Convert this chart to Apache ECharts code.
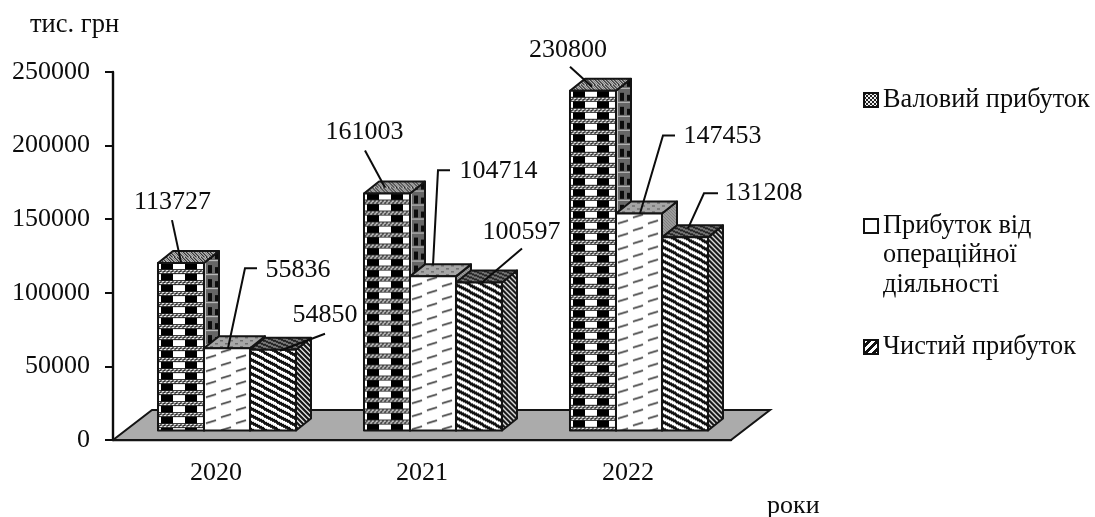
<!DOCTYPE html>
<html>
<head>
<meta charset="utf-8">
<script src="https://cdn.jsdelivr.net/npm/echarts@6/dist/echarts.min.js"></script>
<style>html,body{margin:0;padding:0;background:#fff}#c{width:1095px;height:517px}</style>
</head>
<body>
<div id="c"></div>
<script>
// ---- data ----
var categories = ['2020', '2021', '2022'];
var seriesNames = ['Валовий прибуток', 'Прибуток від\nопераційної\nдіяльності', 'Чистий прибуток'];
var grossProfit = [113727, 161003, 230800];
var operatingProfit = [55836, 104714, 147453];
var netProfit = [54850, 100597, 131208];
var yTicks = [0, 250000, 50000];

// ---- layout (offsets from each bar's top-left front corner) ----
var labelOffsets = [
  [[14.5, -61], [0.5, -61], [-2, -41]],
  [[94, -78], [88.5, -105], [106.5, -77]],
  [[75, -35], [65.5, -50], [101.5, -44]]
];
var leaderOffsets = [
  [[[14, -43], [23, -1]], [[1, -43], [21, -6]], [[0, -24], [22, -4]]],
  [[[53, -80], [41, -80], [24, 0]], [[40, -106], [28, -106], [23, -11]], [[59, -78], [47, -78], [24, 0]]],
  [[[75, -16], [30, 1]], [[66, -34], [26, 0]], [[56, -44], [42, -44], [26, -9]]]
];
var FONT = '"Liberation Serif","Times New Roman",serif';
var INK = '#0c0c0c';

// ---- hatch tiles ----
function tile(w, h, draw) {
  var c = document.createElement('canvas');
  c.width = w; c.height = h;
  draw(c.getContext('2d'), w, h);
  return { image: c, repeat: 'repeat' };
}
function rows(ctx, w, h, f) {
  for (var y = 0; y < h; y++) for (var x = 0; x < w; x++) {
    ctx.fillStyle = f(x, y);
    ctx.fillRect(x, y, 1, 1);
  }
}
function stripes(w, h, period, duty, dark, light) {
  return tile(w, h, function (ctx) {
    rows(ctx, w, h, function (x, y) {
      var p = (y - x * h / w) % period;
      if (p < 0) p += period;
      return p < duty ? dark : light;
    });
  });
}
var frontFills = [
  tile(24, 11, function (ctx) {
    ctx.fillStyle = '#fff'; ctx.fillRect(0, 0, 24, 11);
    ctx.fillStyle = '#000'; ctx.fillRect(3, 0, 12, 6);
    ctx.fillStyle = '#7c7c7c'; ctx.fillRect(0, 6, 24, 5);
    ctx.fillStyle = '#1e1e1e'; ctx.fillRect(0, 6, 24, 1); ctx.fillRect(0, 10, 24, 1);
    for (var x = 0; x < 24; x += 4) {
      ctx.fillStyle = '#fff'; ctx.fillRect(x, 7, 2, 1); ctx.fillRect(x + 2, 9, 2, 1);
      ctx.fillStyle = '#222'; ctx.fillRect(x + 1, 8, 2, 1);
    }
  }),
  tile(30, 26, function (ctx) {
    ctx.fillStyle = '#fff'; ctx.fillRect(0, 0, 30, 26);
    ctx.strokeStyle = '#333'; ctx.lineWidth = 1.8;
    ctx.beginPath();
    ctx.moveTo(2, 10); ctx.lineTo(12, 7);
    ctx.moveTo(17, 4); ctx.lineTo(27, 1);
    ctx.moveTo(2, 23); ctx.lineTo(12, 20);
    ctx.moveTo(17, 17); ctx.lineTo(27, 14);
    ctx.stroke();
  }),
  stripes(13, 7, 7, 3.5, '#111', '#fff')
];
var sideFills = [
  tile(14, 14, function (ctx) {
    ctx.fillStyle = '#666'; ctx.fillRect(0, 0, 14, 14);
    ctx.fillStyle = '#0c0c0c'; ctx.fillRect(8, 2, 4, 8); ctx.fillRect(1, 4, 3, 6);
    ctx.fillStyle = '#c4c4c4'; ctx.fillRect(0, 11, 14, 1); ctx.fillRect(5, 0, 1, 14);
  }),
  stripes(6, 6, 3, 1.5, '#808080', '#b4b4b4'),
  stripes(5, 5, 5, 2.4, '#1a1a1a', '#d8d8d8')
];
var topFills = [
  tile(8, 6, function (ctx) {
    rows(ctx, 8, 6, function (x, y) {
      var k = (x * 3 + y * 5) % 8;
      return k < 2 ? '#2a2a2a' : (k < 5 ? '#777' : '#c0c0c0');
    });
  }),
  tile(10, 6, function (ctx) {
    ctx.fillStyle = '#a6a6a6'; ctx.fillRect(0, 0, 10, 6);
    ctx.fillStyle = '#555'; ctx.fillRect(1, 1, 3, 1); ctx.fillRect(6, 4, 3, 1);
  }),
  stripes(10, 4, 4, 2, '#222', '#7a7a7a')
];
var legendFills = [
  tile(4, 4, function (ctx) {
    rows(ctx, 4, 4, function (x, y) { return ((x >> 1) + (y >> 1)) % 2 ? '#eee' : '#222'; });
  }),
  tile(4, 4, function (ctx) { ctx.fillStyle = '#fff'; ctx.fillRect(0, 0, 4, 4); }),
  tile(8, 8, function (ctx) {
    rows(ctx, 8, 8, function (x, y) { return (x + y) % 8 < 4 ? '#fff' : '#111'; });
  })
];

// ---- 3D bars ----
var BAND_START = -0.2816;   // bar group start, as a share of the category band
var BAR_SHARE = 0.2233;     // one bar's width, as a share of the band
var DEPTH_X = 15, DEPTH_Y = 12, LIFT = 9.5;

function barRenderer(s) {
  return function (params, api) {
    var i = api.value(0), v = api.value(1);
    var band = api.size([1, 0])[0];
    var w = band * BAR_SHARE;
    var centre = api.coord([i, 0]);
    var top = api.coord([i, v]);
    var x = centre[0] + band * BAND_START + s * w;
    var yt = top[1] - LIFT;
    var h = centre[1] - LIFT - yt;
    function st(fill) { return { fill: fill, stroke: '#141414', lineWidth: 2, lineJoin: 'round' }; }
    var children = [
      { type: 'polygon', shape: { points: [[w, 0], [w + DEPTH_X, -DEPTH_Y], [w + DEPTH_X, h - DEPTH_Y], [w, h]] }, style: st(sideFills[s]) },
      { type: 'polygon', shape: { points: [[0, 0], [DEPTH_X, -DEPTH_Y], [w + DEPTH_X, -DEPTH_Y], [w, 0]] }, style: st(topFills[s]) },
      { type: 'polygon', shape: { points: [[0, 0], [w, 0], [w, h], [0, h]] }, style: st(frontFills[s]) },
      { type: 'polyline', shape: { points: leaderOffsets[s][i] }, style: { stroke: '#0c0c0c', lineWidth: 2, fill: null } },
      { type: 'text', style: { text: String(v), x: labelOffsets[s][i][0], y: labelOffsets[s][i][1], align: 'center', verticalAlign: 'middle', font: '26px ' + FONT, fill: INK } }
    ];
    return { type: 'group', x: x, y: yt, children: children };
  };
}
function floorRenderer(params, api) {
  var cs = params.coordSys;
  var b = cs.y + cs.height;
  return {
    type: 'polygon',
    shape: { points: [[cs.x, b], [cs.x + 39, b - 30], [cs.x + cs.width + 39, b - 30], [cs.x + cs.width, b]] },
    style: { fill: '#ababab', stroke: '#141414', lineWidth: 2 }
  };
}
function rowsOf(values) { return values.map(function (v, i) { return [i, v]; }); }

var valueArrays = [grossProfit, operatingProfit, netProfit];
var legendTops = [101, 227, 348];
var series = [{ type: 'custom', name: 'floor', renderItem: floorRenderer, clip: false, silent: true, data: [[0, 0]], encode: { x: 0, y: 1 }, z: 1 }];
valueArrays.forEach(function (vals, s) {
  series.push({
    type: 'custom', name: seriesNames[s], renderItem: barRenderer(s), clip: false, silent: true,
    data: rowsOf(vals), encode: { x: 0, y: 1 }, z: 2 + s, itemStyle: { color: '#333' }
  });
});

var option = {
  animation: false,
  backgroundColor: '#fff',
  textStyle: { fontFamily: FONT, color: INK },
  grid: { left: 113, right: 364, top: 72, bottom: 77 },
  xAxis: {
    type: 'category', data: categories, boundaryGap: true,
    axisLine: { show: true, lineStyle: { color: '#0c0c0c', width: 2.4 } },
    axisTick: { show: false },
    axisLabel: { color: INK, fontFamily: FONT, fontSize: 26, margin: 20 }
  },
  yAxis: {
    type: 'value', min: yTicks[0], max: yTicks[1], interval: yTicks[2],
    axisLine: { show: true, lineStyle: { color: '#0c0c0c', width: 2.4 } },
    axisTick: { show: true, length: 8, lineStyle: { color: '#0c0c0c', width: 2 } },
    axisLabel: { color: INK, fontFamily: FONT, fontSize: 26, margin: 23, formatter: function (v) { return String(v); } },
    splitLine: { show: false }
  },
  legend: seriesNames.map(function (n, s) {
    return {
      data: [n], left: 863, top: legendTops[s] - 14, height: 28, padding: 0,
      icon: 'rect', itemWidth: 14, itemHeight: 14, selectedMode: false,
      itemStyle: { color: legendFills[s], borderColor: '#111', borderWidth: 2 },
      textStyle: { fontFamily: FONT, fontSize: 26.3, color: INK },
      formatter: function (name) { return name.split('\n')[0]; }
    };
  }),
  graphic: [
    { type: 'text', left: 30, top: 12, style: { text: 'тис. грн', font: '26.5px ' + FONT, fill: INK } },
    { type: 'text', left: 767, top: 493, style: { text: 'роки', font: '26px ' + FONT, fill: INK } },
    { type: 'text', left: 883, top: 242, style: { text: seriesNames[1].split('\n')[1], font: '26.3px ' + FONT, fill: INK } },
    { type: 'text', left: 883, top: 272, style: { text: seriesNames[1].split('\n')[2], font: '26.3px ' + FONT, fill: INK } }
  ],
  series: series
};
var chart = echarts.init(document.getElementById('c'), null, { renderer: 'canvas', width: 1095, height: 517 });
chart.setOption(option);
</script>
</body>
</html>
